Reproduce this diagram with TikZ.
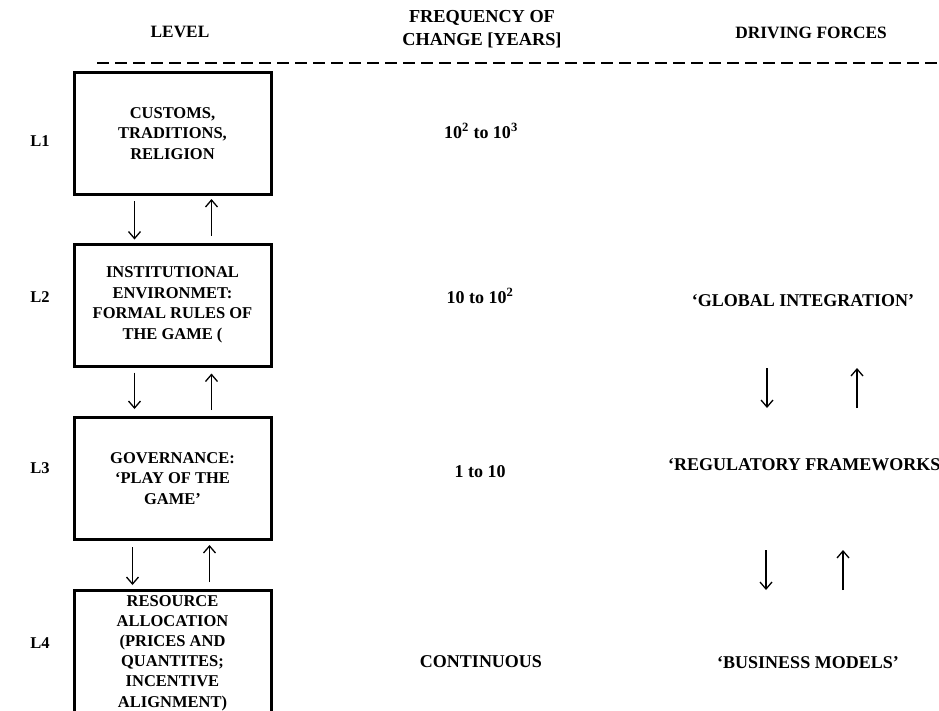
\documentclass[tikz,border=0pt]{standalone}
\usepackage{fontspec}
\setmainfont{Liberation Serif}
\usetikzlibrary{arrows.meta}

\tikzset{
  box/.style={draw, line width=3pt, minimum width=197pt, minimum height=122pt,
    inner sep=0pt, align=center, font=\fontsize{16.5}{20.5}\selectfont\bfseries},
  head/.style={inner sep=0pt, align=center, font=\fontsize{17.3}{21}\selectfont\bfseries},
  lvl/.style={inner sep=0pt, anchor=base, font=\fontsize{16.5}{20}\selectfont\bfseries},
  txt/.style={inner sep=0pt, anchor=base, font=\fontsize{18}{22}\selectfont\bfseries},
  arr/.style={-{Straight Barb[length=7pt,width=12pt]}, line width=1.3pt},
  sep/.style={line width=2pt, dash pattern=on 12pt off 6pt}
}

\begin{document}
\begin{tikzpicture}[x=1pt, y=-1pt]
  \useasboundingbox (0,0) rectangle (939,710);
  \clip (0,0) rectangle (939,710);

  % column headings
  \node[head, anchor=base] (hlevel) at (180,37) {LEVEL};
  \node[head, font=\fontsize{18.3}{23}\selectfont\bfseries] (hfreq) at (482,29) {FREQUENCY OF\\CHANGE [YEARS]};
  \node[head, anchor=base] (hdrive) at (811,38) {DRIVING FORCES};

  % separator under the headings
  \coordinate (sepL) at (97,63);
  \coordinate (sepR) at (945,63);
  \draw[sep] (sepL) -- (sepR);

  % level boxes
  \node[box] (b1) at (172.5,133.5) {CUSTOMS,\\TRADITIONS,\\RELIGION};
  \node[box] (b2) at (172.5,305) {INSTITUTIONAL\\ENVIRONMET:\\FORMAL RULES OF\\THE GAME (};
  \node[box] (b3) at (172.5,478.5) {GOVERNANCE:\\‘PLAY OF THE\\GAME’};
  \node[box, font=\fontsize{16.5}{20.1}\selectfont\bfseries] (b4) at (172.5,651.5)
    {\rule{0pt}{14pt}RESOURCE\\ALLOCATION\\(PRICES AND\\QUANTITES;\\INCENTIVE\\ALIGNMENT)};

  % links between the levels
  \draw[arr] ([xshift=-38pt,yshift=-5pt]b1.south) -- ([xshift=-38pt,yshift=3pt]b2.north);
  \draw[arr] ([xshift=39pt,yshift=7pt]b2.north) -- ([xshift=39pt,yshift=-3pt]b1.south);
  \draw[arr] ([xshift=-38pt,yshift=-5pt]b2.south) -- ([xshift=-38pt,yshift=7pt]b3.north);
  \draw[arr] ([xshift=39pt,yshift=6pt]b3.north) -- ([xshift=39pt,yshift=-6pt]b2.south);
  \draw[arr] ([xshift=-40pt,yshift=-6pt]b3.south) -- ([xshift=-40pt,yshift=4pt]b4.north);
  \draw[arr] ([xshift=37pt,yshift=7pt]b4.north) -- ([xshift=37pt,yshift=-4pt]b3.south);

  % level labels
  \node[lvl] (l1) at (40,146.5) {L1};
  \node[lvl] (l2) at (40,302.5) {L2};
  \node[lvl] (l3) at (40,473.5) {L3};
  \node[lvl] (l4) at (40,648.5) {L4};

  % frequency of change
  \node[txt] (f1) at (481,138) {10\textsuperscript{2} to 10\textsuperscript{3}};
  \node[txt] (f2) at (480,303) {10 to 10\textsuperscript{2}};
  \node[txt] (f3) at (480,477) {1 to 10};
  \node[txt] (f4) at (481,667) {CONTINUOUS};

  % driving forces
  \node[txt] (g) at (803,306) {‘GLOBAL INTEGRATION’};
  \node[txt, anchor=base west] (r) at (668,470) {‘REGULATORY FRAMEWORKS’};
  \node[txt] (bm) at (808,668) {‘BUSINESS MODELS’};

  \draw[arr] ([xshift=-36pt,yshift=-62pt]g.base) -- ([xshift=99pt,yshift=62pt]r.base west);
  \draw[arr] ([xshift=189pt,yshift=62pt]r.base west) -- ([xshift=54pt,yshift=-62pt]g.base);
  \draw[arr] ([xshift=98pt,yshift=-80pt]r.base west) -- ([xshift=-42pt,yshift=78pt]bm.base);
  \draw[arr] ([xshift=35pt,yshift=78pt]bm.base) -- ([xshift=175pt,yshift=-80pt]r.base west);
\end{tikzpicture}
\end{document}
